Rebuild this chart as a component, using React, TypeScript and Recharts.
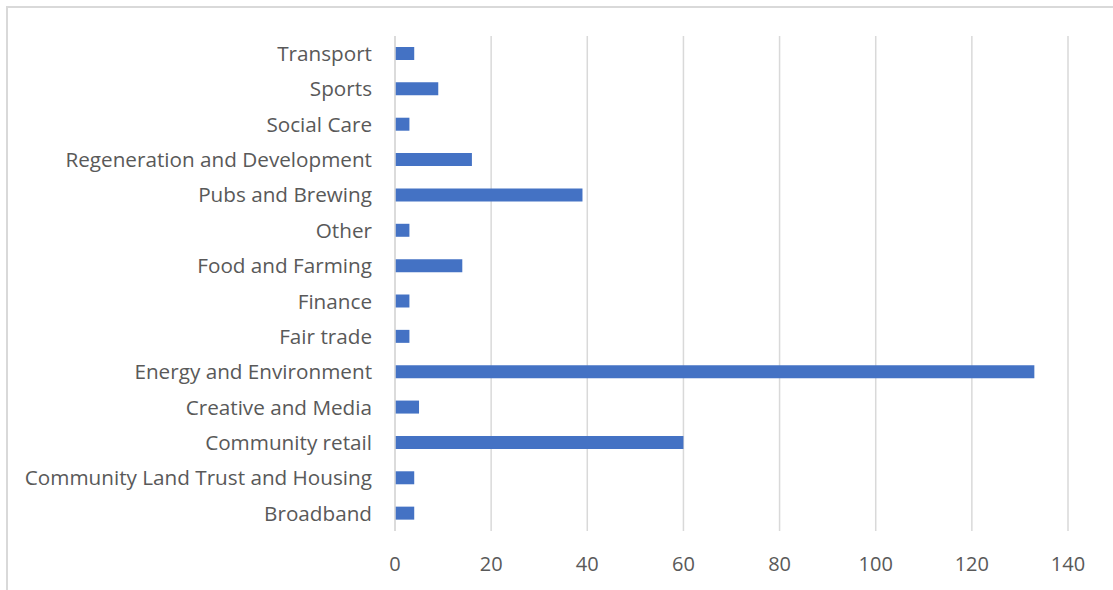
import { BarChart, Bar, XAxis, YAxis, CartesianGrid } from 'recharts';

const categories = [
  'Transport',
  'Sports',
  'Social Care',
  'Regeneration and Development',
  'Pubs and Brewing',
  'Other',
  'Food and Farming',
  'Finance',
  'Fair trade',
  'Energy and Environment',
  'Creative and Media',
  'Community retail',
  'Community Land Trust and Housing',
  'Broadband',
];

const counts = [4, 9, 3, 16, 39, 3, 14, 3, 3, 133, 5, 60, 4, 4];

const xTicks = [0, 20, 40, 60, 80, 100, 120, 140];

const data = categories.map((name, i) => ({ name, value: counts[i] }));

const FONT = '"Open Sans", sans-serif';

export default function App() {
  return (
    <div style={{ position: 'fixed', top: 0, left: 0, width: 1113, height: 590, background: '#fff', overflow: 'hidden' }}>
      <div
        style={{
          position: 'absolute',
          left: 6,
          top: 6,
          width: 1200,
          height: 700,
          borderLeft: '2px solid #d9d9d9',
          borderTop: '2px solid #d9d9d9',
        }}
      />
      <div style={{ position: 'absolute', left: 0, top: 0 }}>
        <BarChart
          width={1113}
          height={590}
          data={data}
          layout="vertical"
          margin={{ top: 36, right: 45, bottom: 29, left: 0 }}
        >
          <CartesianGrid horizontal={false} stroke="#d9d9d9" strokeWidth={1.5} />
          <XAxis
            type="number"
            domain={[0, 140]}
            ticks={xTicks}
            interval={0}
            axisLine={false}
            tickLine={false}
            tickSize={0}
            tickMargin={26}
            height={30}
            tick={{ fontSize: 20, fill: '#595959', fontFamily: FONT }}
          />
          <YAxis
            type="category"
            dataKey="name"
            width={395}
            interval={0}
            axisLine={{ stroke: '#d9d9d9', strokeWidth: 1.5 }}
            tickLine={false}
            tickSize={0}
            tickMargin={23}
            tick={{ fontSize: 20.7, fill: '#595959', fontFamily: FONT }}
          />
          <Bar dataKey="value" fill="#4472c4" barSize={13} isAnimationActive={false} />
        </BarChart>
      </div>
    </div>
  );
}
